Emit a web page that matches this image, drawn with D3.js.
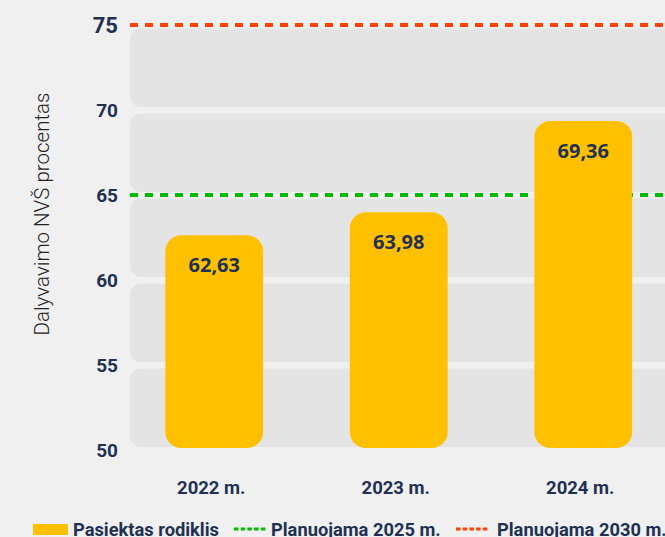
<!DOCTYPE html>
<html>
<head>
<meta charset="utf-8">
<script src="https://cdn.jsdelivr.net/npm/d3@7"></script>
<style>
  body { margin: 0; background: #f0f0f0; }
  svg { display: block; }
</style>
</head>
<body>
<div id="chart"></div>
<script>
// Duomenys
const years = ["2022 m.", "2023 m.", "2024 m."];
const values = [62.63, 63.98, 69.36];
const yTicks = [50, 55, 60, 65, 70, 75];
const target2025 = 65;
const target2030 = 75;
const legendLabels = ["Pasiektas rodiklis", "Planuojama 2025 m.", "Planuojama 2030 m."];

const [width, height] = [665, 537];
const navy = "#1f3152";
const yellow = "#ffc000";
const green = "#00bb00";
const red = "#ff4000";

const svg = d3.select("#chart")
  .append("svg")
  .attr("width", width)
  .attr("height", height);

const yScale = d3.scaleLinear()
  .domain([50, 75])
  .range([450, 25]);

const xScale = d3.scaleBand()
  .domain(years)
  .range([122, 675.5])
  .paddingInner(0.47)
  .paddingOuter(0.235);

// fono juostos
svg.append("g").selectAll("rect")
  .data(yTicks.slice(0, -1))
  .enter()
  .append("rect")
  .attr("x", 130)
  .attr("width", 600)
  .attr("y", d => yScale(d + 5) + 3.5)
  .attr("height", d => yScale(d) - yScale(d + 5) - 6.5)
  .attr("rx", 11)
  .style("fill", "#e4e4e4");

// ašis
const yAxis = svg.append("g")
  .attr("transform", "translate(119,0)")
  .call(d3.axisLeft(yScale).tickValues(yTicks).tickSize(0).tickPadding(1));
yAxis.select(".domain").remove();
yAxis.selectAll("text")
  .style("font-family", "Roboto")
  .style("font-weight", "bold")
  .style("font-size", d => d === 75 ? "22px" : "19px")
  .style("fill", navy);

svg.append("text")
  .attr("transform", "translate(49,214) rotate(-90)")
  .attr("text-anchor", "middle")
  .style("font-family", "Roboto")
  .style("font-weight", 300)
  .style("font-size", "20.5px")
  .style("fill", "#222")
  .text("Dalyvavimo NVŠ procentas");

// tikslo linijos
const drawTarget = (value, color) => {
  svg.append("line")
    .attr("x1", 130)
    .attr("x2", width)
    .attr("y1", yScale(value))
    .attr("y2", yScale(value))
    .style("stroke", color)
    .style("stroke-width", 4)
    .style("stroke-dasharray", "8,7");
};
drawTarget(target2025, green);
drawTarget(target2030, red);

// stulpeliai
svg.append("g").selectAll("rect")
  .data(values)
  .enter()
  .append("rect")
  .attr("x", (d, i) => xScale(years[i]))
  .attr("width", xScale.bandwidth())
  .attr("y", d => yScale(d))
  .attr("height", d => yScale(50) - 2 - yScale(d))
  .attr("rx", 16)
  .style("fill", yellow);

svg.append("g").selectAll("text")
  .data(values)
  .enter()
  .append("text")
  .attr("x", (d, i) => xScale(years[i]) + xScale.bandwidth() / 2)
  .attr("y", d => yScale(d) + 37)
  .attr("text-anchor", "middle")
  .style("font-family", "Open Sans")
  .style("font-weight", "bold")
  .style("font-size", "20px")
  .style("fill", navy)
  .text(d => d.toFixed(2).replace(".", ","));

// x ašies žymės
svg.append("g").selectAll("text")
  .data(years)
  .enter()
  .append("text")
  .attr("x", d => xScale(d) + xScale.bandwidth() / 2 - 3)
  .attr("y", 494)
  .attr("text-anchor", "middle")
  .style("font-family", "Roboto")
  .style("font-weight", "bold")
  .style("font-size", "18.5px")
  .style("fill", navy)
  .text(d => d);

// legenda
const legend = svg.append("g");
legend.append("rect")
  .attr("x", 33).attr("y", 524)
  .attr("width", 35).attr("height", 11)
  .style("fill", yellow);
[[234, green], [456, red]].forEach(([x, c]) => {
  legend.append("line")
    .attr("x1", x).attr("x2", x + 33)
    .attr("y1", 529).attr("y2", 529)
    .style("stroke", c)
    .style("stroke-width", 3)
    .style("stroke-dasharray", "4.5,2.2");
});
legend.selectAll("text")
  .data(legendLabels)
  .enter()
  .append("text")
  .attr("x", (d, i) => [73, 271, 497][i])
  .attr("y", 536)
  .style("font-family", "Roboto")
  .style("font-weight", "bold")
  .style("font-size", "18.3px")
  .style("fill", navy)
  .text(d => d);
</script>
</body>
</html>
